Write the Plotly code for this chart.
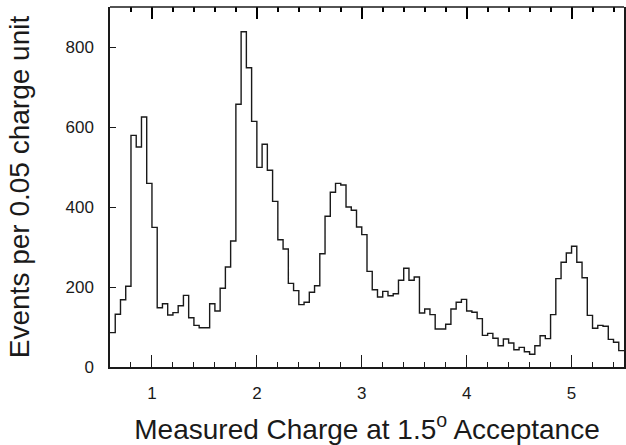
import plotly.graph_objects as go

# histogram of measured charge, bins of 0.05 starting at 0.60
BIN_START = 0.60
BIN_WIDTH = 0.05
counts = [
    86, 132, 168, 202, 579, 550, 625, 459, 349, 148,
    158, 130, 136, 153, 179, 123, 104, 98, 98, 158,
    140, 197, 250, 315, 657, 838, 748, 614, 499, 557,
    492, 414, 318, 295, 209, 191, 156, 162, 187, 203,
    283, 377, 437, 459, 455, 400, 392, 350, 331, 239,
    193, 175, 189, 178, 183, 217, 247, 217, 225, 135,
    145, 131, 95, 95, 107, 145, 162, 169, 140, 137,
    121, 79, 84, 72, 53, 70, 60, 43, 49, 38,
    32, 53, 78, 71, 131, 221, 262, 285, 302, 262,
    223, 129, 97, 104, 102, 69, 62, 41,
]
x_ticks = [1, 2, 3, 4, 5]
y_ticks = [0, 200, 400, 600, 800]

edges = [round(BIN_START + i * BIN_WIDTH, 2) for i in range(len(counts) + 1)]
step_x = edges
step_y = counts + [counts[-1]]

FONT = "Liberation Sans, Arial, sans-serif"
INK = "#1a1a1a"

fig = go.Figure()
fig.add_trace(
    go.Scatter(
        x=step_x,
        y=step_y,
        mode="lines",
        line=dict(shape="hv", color="#1a1a1a", width=1.4),
        hoverinfo="skip",
    )
)
# invisible copy on the top axis so that its tick marks are drawn
fig.add_trace(
    go.Scatter(
        x=step_x,
        y=step_y,
        xaxis="x2",
        yaxis="y",
        mode="lines",
        line=dict(shape="hv", color="rgba(0,0,0,0)", width=0),
        hoverinfo="skip",
    )
)

fig.update_layout(
    width=626,
    height=445,
    margin=dict(l=110, r=2, t=7, b=78),
    plot_bgcolor="white",
    paper_bgcolor="white",
    showlegend=False,
    font=dict(family=FONT, size=17, color=INK),
    xaxis=dict(
        range=[0.6, 5.5],
        tickvals=x_ticks,
        ticks="inside",
        ticklen=12,
        tickwidth=1.3,
        tickcolor=INK,
        minor=dict(dtick=0.2, tick0=0, ticks="inside", ticklen=5, tickwidth=1.3, tickcolor=INK),
        showgrid=False,
        zeroline=False,
        showline=True,
        linecolor=INK,
        linewidth=1.5,
        automargin=False,
        ticklabelstandoff=10,
        title=dict(
            text="Measured Charge at 1.5<sup>o</sup> Acceptance",
            font=dict(family=FONT, size=28, color=INK),
            standoff=22,
        ),
    ),
    xaxis2=dict(
        range=[0.6, 5.5],
        tickvals=x_ticks,
        ticks="inside",
        ticklen=12,
        tickwidth=1.6,
        tickcolor="black",
        minor=dict(dtick=0.2, tick0=0, ticks="inside", ticklen=5, tickwidth=1.6, tickcolor="black"),
        showgrid=False,
        zeroline=False,
        anchor="y",
        overlaying="x",
        side="top",
        showline=False,
        showticklabels=False,
    ),
    yaxis=dict(
        range=[0, 900],
        tickvals=y_ticks,
        ticks="inside",
        ticklen=6,
        tickwidth=1.3,
        tickcolor=INK,
        showline=True,
        linecolor=INK,
        linewidth=1.5,
        mirror=True,
        showgrid=False,
        zeroline=False,
        ticklabelstandoff=11,
        title=dict(
            text="Events per 0.05 charge unit",
            font=dict(family=FONT, size=28, color=INK),
            standoff=28,
        ),
        automargin=False,
    ),
    # top border of the frame (the top axis carries only tick marks)
    shapes=[
        dict(
            type="line", xref="paper", yref="paper", x0=0, x1=1, y0=1, y1=1,
            line=dict(color=INK, width=1.5),
        )
    ],
)

fig.write_html(
    "out.html",
    config={"displayModeBar": False},
    post_script="document.body.style.margin='0';",
)
